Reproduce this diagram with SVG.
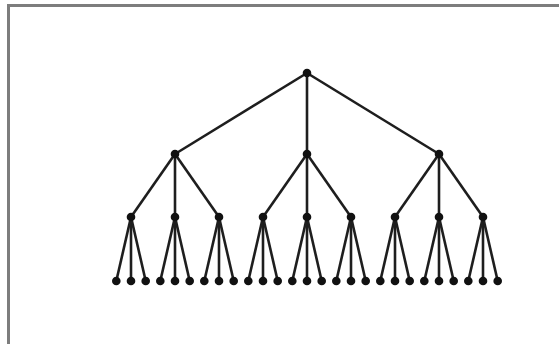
<svg xmlns="http://www.w3.org/2000/svg" width="559" height="344" viewBox="0 0 559 344">
<style>
.e{stroke:#1e1e1e;stroke-width:2.6;fill:none}
.n{fill:#111}
.b{stroke:#7d7d7d;stroke-width:3;fill:none}
</style>
<defs><circle id="d" r="4.3" class="n"/></defs>
<rect x="0" y="0" width="559" height="344" fill="#fff"/>
<g id="frame"><line class="b" x1="7" y1="5.5" x2="559" y2="5.5"/><line class="b" x1="8.5" y1="4" x2="8.5" y2="344"/></g>
<g id="connectors">
<line class="e" x1="307" y1="73" x2="175" y2="154"/><line class="e" x1="307" y1="73" x2="307" y2="154"/><line class="e" x1="307" y1="73" x2="439" y2="154"/>
<line class="e" x1="175" y1="154" x2="131" y2="217"/><line class="e" x1="175" y1="154" x2="175" y2="217"/><line class="e" x1="175" y1="154" x2="219" y2="217"/>
<line class="e" x1="307" y1="154" x2="263" y2="217"/><line class="e" x1="307" y1="154" x2="307" y2="217"/><line class="e" x1="307" y1="154" x2="351" y2="217"/>
<line class="e" x1="439" y1="154" x2="395" y2="217"/><line class="e" x1="439" y1="154" x2="439" y2="217"/><line class="e" x1="439" y1="154" x2="483" y2="217"/>
<line class="e" x1="131" y1="217" x2="116.3" y2="281"/><line class="e" x1="131" y1="217" x2="131" y2="281"/><line class="e" x1="131" y1="217" x2="145.7" y2="281"/>
<line class="e" x1="175" y1="217" x2="160.3" y2="281"/><line class="e" x1="175" y1="217" x2="175" y2="281"/><line class="e" x1="175" y1="217" x2="189.7" y2="281"/>
<line class="e" x1="219" y1="217" x2="204.3" y2="281"/><line class="e" x1="219" y1="217" x2="219" y2="281"/><line class="e" x1="219" y1="217" x2="233.7" y2="281"/>
<line class="e" x1="263" y1="217" x2="248.3" y2="281"/><line class="e" x1="263" y1="217" x2="263" y2="281"/><line class="e" x1="263" y1="217" x2="277.7" y2="281"/>
<line class="e" x1="307" y1="217" x2="292.3" y2="281"/><line class="e" x1="307" y1="217" x2="307" y2="281"/><line class="e" x1="307" y1="217" x2="321.7" y2="281"/>
<line class="e" x1="351" y1="217" x2="336.3" y2="281"/><line class="e" x1="351" y1="217" x2="351" y2="281"/><line class="e" x1="351" y1="217" x2="365.7" y2="281"/>
<line class="e" x1="395" y1="217" x2="380.3" y2="281"/><line class="e" x1="395" y1="217" x2="395" y2="281"/><line class="e" x1="395" y1="217" x2="409.7" y2="281"/>
<line class="e" x1="439" y1="217" x2="424.3" y2="281"/><line class="e" x1="439" y1="217" x2="439" y2="281"/><line class="e" x1="439" y1="217" x2="453.7" y2="281"/>
<line class="e" x1="483" y1="217" x2="468.3" y2="281"/><line class="e" x1="483" y1="217" x2="483" y2="281"/><line class="e" x1="483" y1="217" x2="497.7" y2="281"/>
</g>
<g id="root"><use href="#d" x="307" y="73"/></g>
<g id="n1"><use href="#d" x="175" y="154"/></g>
<g id="n2"><use href="#d" x="307" y="154"/></g>
<g id="n3"><use href="#d" x="439" y="154"/></g>
<g id="n11"><use href="#d" x="131" y="217"/></g>
<g id="n12"><use href="#d" x="175" y="217"/></g>
<g id="n13"><use href="#d" x="219" y="217"/></g>
<g id="n21"><use href="#d" x="263" y="217"/></g>
<g id="n22"><use href="#d" x="307" y="217"/></g>
<g id="n23"><use href="#d" x="351" y="217"/></g>
<g id="n31"><use href="#d" x="395" y="217"/></g>
<g id="n32"><use href="#d" x="439" y="217"/></g>
<g id="n33"><use href="#d" x="483" y="217"/></g>
<g id="l01"><use href="#d" x="116.3" y="281"/></g>
<g id="l02"><use href="#d" x="131" y="281"/></g>
<g id="l03"><use href="#d" x="145.7" y="281"/></g>
<g id="l04"><use href="#d" x="160.3" y="281"/></g>
<g id="l05"><use href="#d" x="175" y="281"/></g>
<g id="l06"><use href="#d" x="189.7" y="281"/></g>
<g id="l07"><use href="#d" x="204.3" y="281"/></g>
<g id="l08"><use href="#d" x="219" y="281"/></g>
<g id="l09"><use href="#d" x="233.7" y="281"/></g>
<g id="l10"><use href="#d" x="248.3" y="281"/></g>
<g id="l11"><use href="#d" x="263" y="281"/></g>
<g id="l12"><use href="#d" x="277.7" y="281"/></g>
<g id="l13"><use href="#d" x="292.3" y="281"/></g>
<g id="l14"><use href="#d" x="307" y="281"/></g>
<g id="l15"><use href="#d" x="321.7" y="281"/></g>
<g id="l16"><use href="#d" x="336.3" y="281"/></g>
<g id="l17"><use href="#d" x="351" y="281"/></g>
<g id="l18"><use href="#d" x="365.7" y="281"/></g>
<g id="l19"><use href="#d" x="380.3" y="281"/></g>
<g id="l20"><use href="#d" x="395" y="281"/></g>
<g id="l21"><use href="#d" x="409.7" y="281"/></g>
<g id="l22"><use href="#d" x="424.3" y="281"/></g>
<g id="l23"><use href="#d" x="439" y="281"/></g>
<g id="l24"><use href="#d" x="453.7" y="281"/></g>
<g id="l25"><use href="#d" x="468.3" y="281"/></g>
<g id="l26"><use href="#d" x="483" y="281"/></g>
<g id="l27"><use href="#d" x="497.7" y="281"/></g>
</svg>
